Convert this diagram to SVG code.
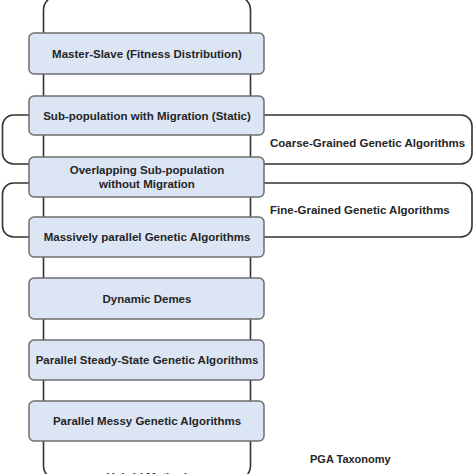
<svg xmlns="http://www.w3.org/2000/svg" width="474" height="474" viewBox="0 0 474 474">
<style>
.box{fill:#dbe5f4;stroke:#6e6e6e;stroke-width:1.5}
.ln{fill:none;stroke:#333;stroke-width:1.6}
text{font-family:"Liberation Sans",Arial,sans-serif;font-weight:bold;font-size:11.5px;fill:#262626}
.c{text-anchor:middle}
</style>
<rect width="474" height="474" fill="#fff"/>
<g id="connectors">
<rect class="ln" x="43.5" y="-4" width="207" height="484" rx="14"/>
<rect class="ln" x="2.5" y="115" width="469.5" height="49" rx="11"/>
<rect class="ln" x="2.5" y="183" width="469.5" height="54" rx="11"/>
</g>
<g id="n1"><rect class="box" x="29" y="33" width="235" height="41" rx="5"/><text class="c" x="147" y="57.5">Master-Slave (Fitness Distribution)</text></g>
<g id="n2"><rect class="box" x="29" y="96" width="235" height="39" rx="5"/><text class="c" x="147" y="119.5">Sub-population with Migration (Static)</text></g>
<g id="n3"><rect class="box" x="29" y="157" width="235" height="40" rx="5"/><text class="c" x="147" y="174">Overlapping Sub-population</text><text class="c" x="147" y="187.5">without Migration</text></g>
<g id="n4"><rect class="box" x="29" y="217" width="235" height="40" rx="5"/><text class="c" x="147" y="241">Massively parallel Genetic Algorithms</text></g>
<g id="n5"><rect class="box" x="29" y="278" width="235" height="41" rx="5"/><text class="c" x="147" y="302.5">Dynamic Demes</text></g>
<g id="n6"><rect class="box" x="29" y="340" width="235" height="40" rx="5"/><text class="c" x="147" y="364">Parallel Steady-State Genetic Algorithms</text></g>
<g id="n7"><rect class="box" x="29" y="401" width="235" height="40" rx="5"/><text class="c" x="147" y="425">Parallel Messy Genetic Algorithms</text></g>
<g id="coarse"><text x="270" y="147">Coarse-Grained Genetic Algorithms</text></g>
<g id="fine"><text x="270" y="214">Fine-Grained Genetic Algorithms</text></g>
<g id="title"><text x="310" y="463" style="font-size:11px">PGA Taxonomy</text></g>
<g id="hybrid"><text class="c" x="150" y="481">Hybrid Methods</text></g>
</svg>
